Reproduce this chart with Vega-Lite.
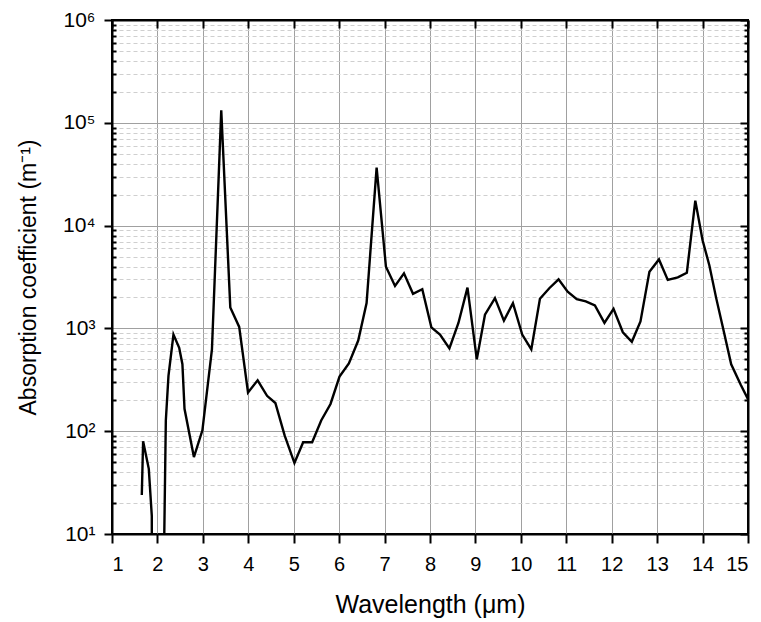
{
  "$schema": "https://vega.github.io/schema/vega-lite/v6.json",
  "autosize": {"type": "none"},
  "width": 636,
  "height": 514,
  "padding": {"left": 112, "top": 20, "right": 13, "bottom": 88},
  "background": "white",
  "config": {
    "view": {"stroke": "black", "strokeWidth": 2},
    "font": "Liberation Sans"
  },
  "data": {
    "values": [
      {"w": 1.656, "a": 24}, {"w": 1.685, "a": 80}, {"w": 1.81, "a": 43}, {"w": 1.876, "a": 15},
      {"w": 1.88, "a": 1}, {"w": 2.12, "a": 1}, {"w": 2.185, "a": 127}, {"w": 2.243, "a": 345},
      {"w": 2.353, "a": 870}, {"w": 2.479, "a": 648}, {"w": 2.55, "a": 448}, {"w": 2.596, "a": 165},
      {"w": 2.803, "a": 56}, {"w": 2.99, "a": 102}, {"w": 3.2, "a": 624}, {"w": 3.405, "a": 132000},
      {"w": 3.604, "a": 1600}, {"w": 3.8, "a": 1033}, {"w": 3.994, "a": 238}, {"w": 4.206, "a": 313},
      {"w": 4.413, "a": 221}, {"w": 4.596, "a": 188}, {"w": 4.8, "a": 91}, {"w": 5.016, "a": 49},
      {"w": 5.208, "a": 78}, {"w": 5.406, "a": 78}, {"w": 5.605, "a": 127}, {"w": 5.81, "a": 184},
      {"w": 6.008, "a": 340}, {"w": 6.214, "a": 457}, {"w": 6.42, "a": 762}, {"w": 6.604, "a": 1762},
      {"w": 6.825, "a": 36700}, {"w": 7.03, "a": 3980}, {"w": 7.23, "a": 2590}, {"w": 7.427, "a": 3435},
      {"w": 7.626, "a": 2170}, {"w": 7.83, "a": 2404}, {"w": 8.03, "a": 1025}, {"w": 8.22, "a": 870},
      {"w": 8.427, "a": 638}, {"w": 8.626, "a": 1130}, {"w": 8.825, "a": 2495}, {"w": 9.03, "a": 500},
      {"w": 9.21, "a": 1360}, {"w": 9.43, "a": 1970}, {"w": 9.627, "a": 1190}, {"w": 9.826, "a": 1760},
      {"w": 10.03, "a": 870}, {"w": 10.23, "a": 624}, {"w": 10.42, "a": 1940}, {"w": 10.626, "a": 2460},
      {"w": 10.83, "a": 3005}, {"w": 11.03, "a": 2280}, {"w": 11.23, "a": 1927}, {"w": 11.43, "a": 1830},
      {"w": 11.63, "a": 1670}, {"w": 11.84, "a": 1130}, {"w": 12.04, "a": 1553}, {"w": 12.245, "a": 918},
      {"w": 12.443, "a": 741}, {"w": 12.633, "a": 1170}, {"w": 12.83, "a": 3560}, {"w": 13.04, "a": 4690},
      {"w": 13.234, "a": 2960}, {"w": 13.455, "a": 3140}, {"w": 13.654, "a": 3480}, {"w": 13.84, "a": 17500},
      {"w": 14.0, "a": 7200}, {"w": 14.15, "a": 4100}, {"w": 14.3, "a": 1970}, {"w": 14.45, "a": 1010},
      {"w": 14.63, "a": 448}, {"w": 14.84, "a": 283}, {"w": 15.0, "a": 205}
    ]
  },
  "layer": [
    {
      "mark": {"type": "line", "color": "black", "strokeWidth": 2.4, "clip": true, "strokeJoin": "miter"},
      "encoding": {
        "x": {
          "field": "w", "type": "quantitative",
          "scale": {"domain": [1, 15], "nice": false, "zero": false},
          "axis": {
            "orient": "bottom",
            "values": [1,2,3,4,5,6,7,8,9,10,11,12,13,14,15],
            "title": "Wavelength (μm)",
            "titleFont": "Liberation Sans", "titleFontSize": 25, "titleFontWeight": "normal", "titleColor": "black",
            "titlePadding": 18,
            "labelFont": "Liberation Sans", "labelFontSize": 20, "labelColor": "black", "labelPadding": 11,
            "domainColor": "black", "domainWidth": 2,
            "tickColor": "black", "tickWidth": 2, "tickSize": 9,
            "grid": true, "gridColor": "#a0a0a0", "gridWidth": 1,
            "labelOverlap": false
          }
        },
        "y": {
          "field": "a", "type": "quantitative",
          "scale": {"type": "log", "domain": [10, 1000000], "nice": false},
          "axis": {
            "orient": "left",
            "values": [10,20,30,40,50,60,70,80,90,100,200,300,400,500,600,700,800,900,1000,2000,3000,4000,5000,6000,7000,8000,9000,10000,20000,30000,40000,50000,60000,70000,80000,90000,100000,200000,300000,400000,500000,600000,700000,800000,900000,1000000],
            "labelExpr": "datum.value == 10 ? '10¹' : datum.value == 100 ? '10²' : datum.value == 1000 ? '10³' : datum.value == 10000 ? '10⁴' : datum.value == 100000 ? '10⁵' : datum.value == 1000000 ? '10⁶' : ''",
            "title": "Absorption coefficient (m⁻¹)",
            "titleFont": "Liberation Sans", "titleFontSize": 23, "titleFontWeight": "normal", "titleColor": "black",
            "titlePadding": 22,
            "labelFont": "Liberation Sans", "labelFontSize": 21, "labelColor": "black",
            "labelPadding": 9,
            "labelOverlap": false,
            "domainColor": "black", "domainWidth": 2,
            "tickColor": "black", "tickWidth": 2,
            "tickSize": {"condition": {"test": "abs(log(datum.value)/LN10 - round(log(datum.value)/LN10)) < 0.0001", "value": 8}, "value": -4},
            "grid": true,
            "gridColor": {"condition": {"test": "abs(log(datum.value)/LN10 - round(log(datum.value)/LN10)) < 0.0001", "value": "#a0a0a0"}, "value": "#cfcfcf"},
            "gridDash": {"condition": {"test": "abs(log(datum.value)/LN10 - round(log(datum.value)/LN10)) < 0.0001", "value": []}, "value": [4, 3]},
            "gridWidth": 1
          }
        }
      }
    },
    {
      "mark": {"type": "line", "color": "black", "strokeWidth": 2.2, "clip": true, "opacity": 0},
      "encoding": {
        "x": {
          "field": "w", "type": "quantitative",
          "scale": {"domain": [1, 15], "nice": false, "zero": false},
          "axis": {
            "orient": "top",
            "values": [1,2,3,4,5,6,7,8,9,10,11,12,13,14,15],
            "title": null, "labels": false, "grid": false,
            "domainColor": "black", "domainWidth": 2,
            "tickColor": "black", "tickWidth": 2, "tickSize": -8
          }
        },
        "y": {
          "field": "a", "type": "quantitative",
          "scale": {"type": "log", "domain": [10, 1000000], "nice": false},
          "axis": {
            "orient": "right",
            "values": [10,20,30,40,50,60,70,80,90,100,200,300,400,500,600,700,800,900,1000,2000,3000,4000,5000,6000,7000,8000,9000,10000,20000,30000,40000,50000,60000,70000,80000,90000,100000,200000,300000,400000,500000,600000,700000,800000,900000,1000000],
            "title": null, "labels": false, "grid": false,
            "domainColor": "black", "domainWidth": 2,
            "tickColor": "black", "tickWidth": 2,
            "tickSize": {"condition": {"test": "abs(log(datum.value)/LN10 - round(log(datum.value)/LN10)) < 0.0001", "value": -8}, "value": -4}
          }
        }
      }
    }
  ],
  "resolve": {"axis": {"x": "independent", "y": "independent"}}
}
